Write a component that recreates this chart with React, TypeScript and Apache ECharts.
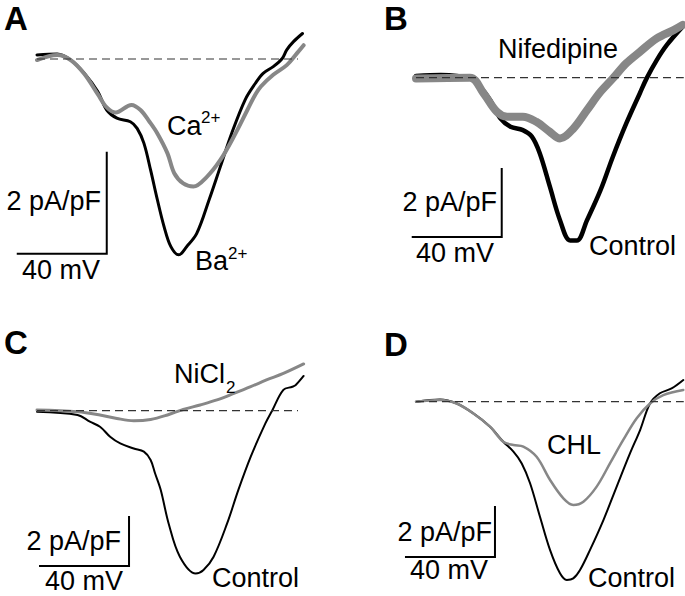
import React, { useEffect, useRef } from 'react';
import * as echarts from 'echarts';

// ---------- Panel A : Ba2+ (black) vs Ca2+ (gray) ----------
const aBaV = [-80, -71, -65, -59, -53, -49, -44.5, -38.5, -35.5, -32.5, -29.5, -26.5, -23.5, -20.5, -17, -13.5, -9, -3.5, 1.5, 6.5, 12.5, 17, 20.5, 25, 29, 31, 34, 38];
const aBaI = [0.08, 0.1, -0.02, -0.28, -0.64, -1.0, -1.16, -1.23, -1.36, -1.65, -2.18, -2.76, -3.29, -3.68, -3.84, -3.68, -3.42, -2.76, -2.11, -1.46, -0.8, -0.48, -0.28, -0.15, 0.01, 0.18, 0.34, 0.5];
const aCaV = [-80, -71, -65, -59, -53, -49, -45, -38, -34, -30, -26.5, -22, -19, -15, -10.5, -4.5, 1.5, 7.5, 13.5, 16.5, 19.5, 25, 31, 35.5, 38.5];
const aCaI = [-0.02, 0.08, -0.02, -0.29, -0.69, -0.95, -1.05, -0.9, -1.0, -1.23, -1.46, -1.85, -2.24, -2.44, -2.5, -2.31, -1.98, -1.52, -1.0, -0.74, -0.54, -0.31, -0.12, 0.11, 0.27];

// ---------- Panel B : Control (black) vs Nifedipine (gray) ----------
const bCtlV = [-80, -69, -56, -51.5, -47, -42.5, -38, -32.5, -28.5, -25, -20.5, -16, -11.5, -8.5, -4, 2, 7.5, 13.5, 19.5, 22.5, 27, 31.5, 38.5];
const bCtlI = [0.05, 0.08, -0.02, -0.26, -0.65, -1.18, -1.42, -1.52, -1.71, -2.19, -3.16, -4.13, -4.72, -4.72, -4.13, -3.26, -2.29, -1.32, -0.45, -0.02, 0.51, 0.95, 1.48];
const bNifV = [-80, -56, -50, -44, -39.5, -32.5, -26.5, -20.5, -16, -10, -4, 2, 7.5, 13.5, 19.5, 27, 34.5, 38.5];
const bNifI = [-0.02, 0, -0.45, -0.99, -1.13, -1.13, -1.28, -1.57, -1.76, -1.47, -0.94, -0.41, -0.02, 0.42, 0.75, 1.14, 1.38, 1.53];

// ---------- Panel C : Control (black) vs NiCl2 (gray) ----------
const cCtlV = [-80, -62, -56.5, -52, -47.5, -43, -37, -32.5, -29.5, -27.5, -25, -21.5, -16.5, -9.5, -6, -1.5, 4.5, 9.5, 15, 21.5, 24.5, 29.5, 33.5, 35, 38.5];
const cCtlI = [-0.04, -0.17, -0.44, -0.64, -1.04, -1.31, -1.51, -1.64, -1.97, -2.51, -3.17, -4.51, -5.84, -6.51, -6.37, -5.84, -4.51, -3.17, -1.84, -0.51, 0, 0.83, 0.96, 1.03, 1.39];
const cNiV = [-80, -62, -52, -44.5, -37, -29.5, -22, -15, -7.5, 0, 7.5, 15, 22, 29.5, 38.5];
const cNiI = [0.03, -0.04, -0.17, -0.31, -0.4, -0.35, -0.17, 0.05, 0.23, 0.43, 0.69, 0.96, 1.23, 1.49, 1.87];

// ---------- Panel D : Control (black) vs CHL (gray) ----------
const dCtlV = [-80, -69.3, -61.9, -54.5, -47.1, -41.2, -36.7, -33, -29.3, -24.9, -20.4, -16, -13, -10.1, -7.1, -2.7, 3.3, 9.2, 15.1, 19.6, 24, 28.4, 33.6, 38.8];
const dCtlI = [0, 0.09, -0.07, -0.46, -0.98, -1.57, -1.96, -2.42, -3.2, -4.51, -5.82, -6.73, -6.99, -6.93, -6.6, -5.82, -4.64, -3.33, -2.03, -1.11, -0.07, 0.33, 0.52, 0.85];
const dChlV = [-80, -69.3, -61.9, -54.5, -47.1, -41.2, -36.7, -32.3, -26.4, -20.4, -14.5, -10.1, -5.6, 0.3, 6.2, 12.1, 18.1, 24, 29.9, 38.8];
const dChlI = [0, 0.07, -0.07, -0.46, -0.98, -1.57, -1.7, -1.76, -2.16, -3.07, -3.79, -4.05, -3.92, -3.33, -2.42, -1.5, -0.65, -0.07, 0.26, 0.46];

// Scale bar sizes (data units)
const SCALE_MV = 40;
const SCALE_PA = 2;

const zip = (v: number[], i: number[]) => v.map((x, k) => [x, i[k]]);

const BLACK = '#000000';
const GRAY = '#878787';
const FONT = '"Liberation Sans", Arial, Helvetica, sans-serif';

const panels = [
  {
    grid: { left: 14.5, top: 8, width: 292.5, height: 306 },
    x: [-90, 40], y: [-5, 1], base: [-80, 36], bar: [-89, -3.82],
    traces: [
      { data: zip(aBaV, aBaI), color: BLACK, width: 3 },
      { data: zip(aCaV, aCaI), color: GRAY, width: 4 },
    ],
  },
  {
    grid: { left: 393.5, top: 8.7, width: 290.25, height: 276 },
    x: [-90, 39], y: [-6, 2], base: [-80, 39], bar: [-81.9, -4.62],
    traces: [
      { data: zip(bCtlV, bCtlI), color: BLACK, width: 4.5 },
      { data: zip(bNifV, bNifI), color: GRAY, width: 8 },
    ],
  },
  {
    grid: { left: 14.5, top: 335.7, width: 292.5, height: 260 },
    x: [-90, 40], y: [-7.4, 3], base: [-80, 36], bar: [-79.1, -6.21],
    traces: [
      { data: zip(cCtlV, cCtlI), color: BLACK, width: 2 },
      { data: zip(cNiV, cNiI), color: GRAY, width: 3 },
    ],
  },
  {
    grid: { left: 393.5, top: 325.2, width: 290.25, height: 270.3 },
    x: [-90, 39], y: [-7.6, 3], base: [-80, 39], bar: [-84.9, -6.09],
    traces: [
      { data: zip(dCtlV, dCtlI), color: BLACK, width: 2 },
      { data: zip(dChlV, dChlI), color: GRAY, width: 2.5 },
    ],
  },
];

// text labels: x = left (or right) edge, y = vertical middle of capitals, in pixels
const labels = [
  { text: 'A', x: 4, y: 18, size: 33, bold: true },
  { text: 'B', x: 384, y: 18, size: 33, bold: true },
  { text: 'C', x: 4, y: 342.5, size: 33, bold: true },
  { text: 'D', x: 384, y: 344, size: 33, bold: true },

  { text: 'Ca', x: 167, y: 125.5, size: 27 },
  { text: '2+', x: 201, y: 117, size: 17 },
  { text: 'Ba', x: 195, y: 260.5, size: 27 },
  { text: '2+', x: 228, y: 253, size: 17 },
  { text: '2 pA/pF', x: 101, y: 201, size: 27, right: true },
  { text: '40 mV', x: 22, y: 270, size: 27 },

  { text: 'Nifedipine', x: 498, y: 48.5, size: 27 },
  { text: 'Control', x: 589, y: 246, size: 27 },
  { text: '2 pA/pF', x: 497, y: 202, size: 27, right: true },
  { text: '40 mV', x: 416, y: 253, size: 27 },

  { text: 'NiCl', x: 174, y: 373.5, size: 27 },
  { text: '2', x: 226, y: 387, size: 17 },
  { text: 'Control', x: 212, y: 578, size: 27 },
  { text: '2 pA/pF', x: 121, y: 541, size: 27, right: true },
  { text: '40 mV', x: 45, y: 581, size: 27 },

  { text: 'CHL', x: 547, y: 445, size: 27 },
  { text: 'Control', x: 588, y: 578, size: 27 },
  { text: '2 pA/pF', x: 492, y: 532, size: 27, right: true },
  { text: '40 mV', x: 410, y: 570, size: 27 },
];

export default function App() {
  const ref = useRef<HTMLDivElement>(null);

  useEffect(() => {
    document.body.style.margin = '0';
    if (!ref.current) return;
    const chart = echarts.init(ref.current, null, { renderer: 'svg' });

    const series: any[] = [];
    panels.forEach((p, i) => {
      p.traces.forEach((t, k) => {
        series.push({
          type: 'line', xAxisIndex: i, yAxisIndex: i, silent: true, clip: false,
          symbol: 'none', showSymbol: false, smooth: 0.35, z: 2 + k,
          data: t.data,
          lineStyle: { color: t.color, width: t.width, join: 'round', cap: 'round' },
        });
      });
      // zero-current dashed reference line
      series.push({
        type: 'line', xAxisIndex: i, yAxisIndex: i, silent: true, clip: false,
        symbol: 'none', z: 4,
        data: [[p.base[0], 0], [p.base[1], 0]],
        lineStyle: { color: '#333333', width: 1.2, type: [8, 5] },
      });
      // scale bar: 40 mV horizontal, 2 pA/pF vertical
      const [bx, by] = p.bar;
      series.push({
        type: 'line', xAxisIndex: i, yAxisIndex: i, silent: true, clip: false,
        symbol: 'none', z: 5,
        data: [[bx, by], [bx + SCALE_MV, by], [bx + SCALE_MV, by + SCALE_PA]],
        lineStyle: { color: BLACK, width: 2, join: 'miter' },
      });
    });

    chart.setOption({
      animation: false,
      backgroundColor: '#ffffff',
      grid: panels.map((p) => ({ ...p.grid, outerBoundsMode: 'none', containLabel: false })),
      xAxis: panels.map((p, i) => ({ type: 'value', gridIndex: i, min: p.x[0], max: p.x[1], show: false })),
      yAxis: panels.map((p, i) => ({ type: 'value', gridIndex: i, min: p.y[0], max: p.y[1], show: false })),
      series,
      graphic: labels.map((l) => ({
        type: 'text',
        x: l.x,
        y: l.y,
        silent: true,
        z: 10,
        style: {
          text: l.text,
          fontSize: l.size,
          lineHeight: Math.round(l.size * 0.8),
          fontFamily: FONT,
          fontWeight: l.bold ? 'bold' : 'normal',
          fill: '#000000',
          align: l.right ? 'right' : 'left',
          textAlign: l.right ? 'right' : 'left',
          verticalAlign: 'middle',
          textVerticalAlign: 'middle',
        },
      })),
    });

    return () => chart.dispose();
  }, []);

  return <div ref={ref} style={{ width: 685, height: 596 }} />;
}
